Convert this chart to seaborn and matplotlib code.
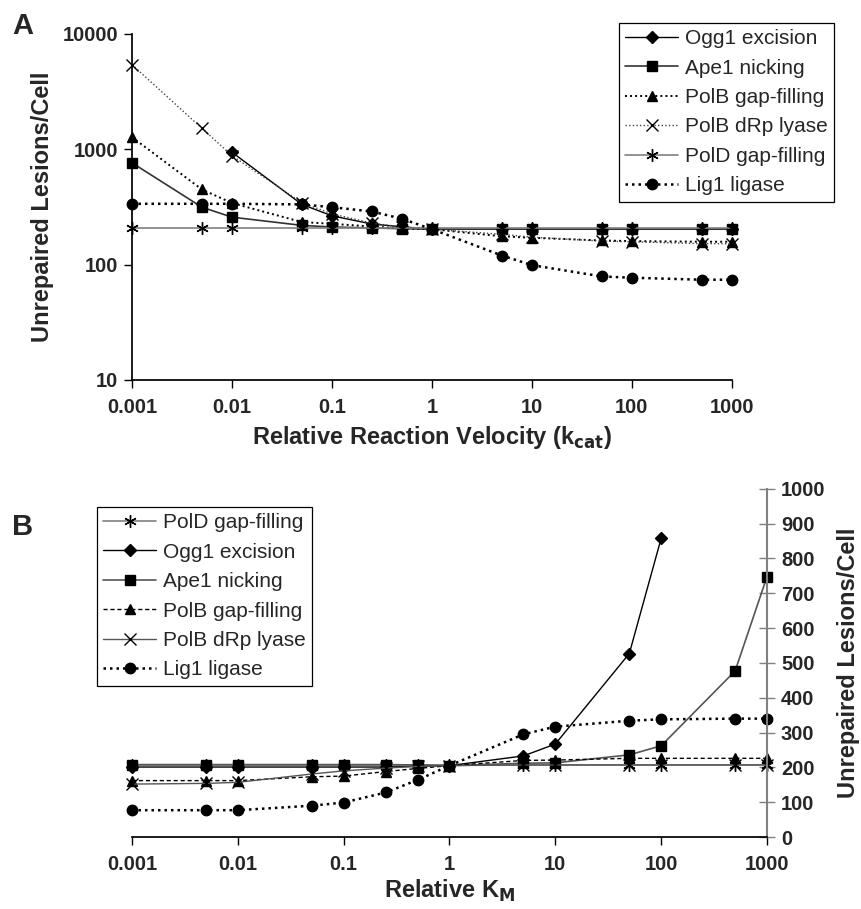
import numpy as np
import pandas as pd
import seaborn as sns
import matplotlib
matplotlib.use('Agg')
import matplotlib.pyplot as plt

sns.set_theme(style='white')
plt.rcParams['font.family'] = ['Liberation Sans', 'DejaVu Sans']

# x values shared by both panels
rel_x = [0.001, 0.005, 0.01, 0.05, 0.1, 0.25, 0.5, 1, 5, 10, 50, 100, 500, 1000]
log_ticks = [0.001, 0.01, 0.1, 1, 10, 100, 1000]

# Panel A: relative kcat (log y)
a_ogg1_x = rel_x[2:]
a_ogg1 = [944, 333, 265, 225, 213, 203, 203, 203, 203, 203, 203, 203]
a_ape1 = [764, 315, 258, 219, 212, 208, 205, 203, 203, 203, 203, 203, 203, 203]
a_polb_gap = [1274, 449, 342, 234, 226, 214, 206, 203, 176, 171, 162, 160, 158, 158]
a_polb_drp = [5420, 1523, 881, 344, 276, 229, 212, 203, 183, 173, 160, 158, 152, 152]
a_pold = [207, 207, 207, 207, 207, 207, 207, 207, 207, 207, 207, 207, 207, 207]
a_lig1 = [337, 337, 337, 333, 315, 289, 250, 203, 120, 99, 79, 77, 74, 74]
a_yticks = [10, 100, 1000, 10000]

# Panel B: relative KM (linear y)
b_ogg1_x = rel_x[:12]
b_ogg1 = [201, 201, 201, 201, 201, 201, 203, 205, 233, 267, 527, 858]
b_ape1 = [208, 208, 208, 208, 208, 208, 207, 205, 212, 213, 236, 262, 477, 748]
b_polb_gap = [162, 162, 162, 173, 175, 188, 197, 205, 220, 221, 226, 226, 226, 226]
b_polb_drp = [152, 154, 157, 181, 190, 198, 203, 205, 207, 207, 207, 207, 207, 207]
b_pold = [207, 207, 207, 207, 207, 207, 207, 207, 207, 207, 207, 207, 207, 207]
b_lig1 = [77, 77, 77, 90, 99, 128, 164, 205, 295, 317, 334, 338, 340, 340]
b_yticks = [0, 100, 200, 300, 400, 500, 600, 700, 800, 900, 1000]

GRAY = '#808080'
ASTER = (6, 2, 0)


def draw(ax, x, y, label, color, ls, lw, marker, ms, mew=1.0):
    sns.lineplot(x=x, y=y, ax=ax, label=label, color=color, linestyle=ls,
                 linewidth=lw, marker=marker, markersize=ms,
                 markeredgecolor='black', markerfacecolor='black',
                 markeredgewidth=mew, errorbar=None, sort=False, clip_on=False)


fig = plt.figure(figsize=(8.62, 9.09), dpi=100)
axA = fig.add_axes([0.1531, 0.582, 0.696, 0.3806])
axB = fig.add_axes([0.1531, 0.0792, 0.7367, 0.383])

dot = (0, (1, 1.6))
draw(axA, a_ogg1_x, a_ogg1, 'Ogg1 excision', 'black', '-', 1.0, 'D', 6)
draw(axA, rel_x, a_ape1, 'Ape1 nicking', '#333333', '-', 1.2, 's', 7)
draw(axA, rel_x, a_polb_gap, 'PolB gap-filling', 'black', dot, 1.4, '^', 7.5)
draw(axA, rel_x, a_polb_drp, 'PolB dRp lyase', '#444444', dot, 1.0, 'x', 8, 1.0)
draw(axA, rel_x, a_pold, 'PolD gap-filling', GRAY, '-', 1.2, ASTER, 9, 1.0)
draw(axA, rel_x, a_lig1, 'Lig1 ligase', 'black', dot, 1.8, 'o', 7.5)

draw(axB, rel_x, b_pold, 'PolD gap-filling', GRAY, '-', 1.2, ASTER, 9, 1.0)
draw(axB, b_ogg1_x, b_ogg1, 'Ogg1 excision', 'black', '-', 1.0, 'D', 6)
draw(axB, rel_x, b_ape1, 'Ape1 nicking', '#555555', '-', 1.2, 's', 7.5)
draw(axB, rel_x, b_polb_gap, 'PolB gap-filling', 'black', (0, (3, 2)), 1.0, '^', 7.5)
draw(axB, rel_x, b_polb_drp, 'PolB dRp lyase', '#555555', '-', 1.0, 'x', 8, 1.0)
draw(axB, rel_x, b_lig1, 'Lig1 ligase', 'black', dot, 1.8, 'o', 7.5)

tick_font = dict(fontsize=14.5, fontweight='bold')
label_font = dict(fontsize=17, fontweight='bold')

for ax in (axA, axB):
    ax.set_xscale('log')
    ax.set_xlim(0.001, 1000)
    ax.set_xticks(log_ticks, [f'{v:g}' for v in log_ticks], **tick_font)
    ax.xaxis.set_minor_locator(matplotlib.ticker.NullLocator())
    ax.tick_params(axis='x', direction='out', length=6, width=1, color='black',
                   bottom=True, pad=7)
    ax.spines['top'].set_visible(False)
    ax.spines['bottom'].set_color('black')
    ax.patch.set_alpha(0)

# Panel A axes
axA.set_yscale('log')
axA.set_ylim(10, 10000)
axA.set_yticks(a_yticks, [f'{v:g}' for v in a_yticks], **tick_font)
axA.yaxis.set_minor_locator(matplotlib.ticker.NullLocator())
axA.tick_params(axis='y', direction='out', length=6, width=1, color='black', left=True, pad=4)
axA.spines['right'].set_visible(False)
axA.spines['left'].set_color('black')
axA.set_xlabel('Relative Reaction Velocity (k$_{\\mathbf{cat}}$)', labelpad=5, **label_font)
axA.set_ylabel('Unrepaired Lesions/Cell', labelpad=6, **label_font)

# Panel B axes
axB.set_ylim(0, 1000)
axB.yaxis.tick_right()
axB.yaxis.set_label_position('right')
axB.set_yticks(b_yticks, [str(v) for v in b_yticks], **tick_font)
axB.tick_params(axis='y', direction='inout', length=12, width=1, color=GRAY,
                right=True, left=False, pad=4)
axB.spines['left'].set_visible(False)
axB.spines['right'].set_color(GRAY)
axB.spines['right'].set_linewidth(1.5)
axB.set_xlabel('Relative K$_\\mathbf{M}$', labelpad=3, **label_font)
axB.set_ylabel('Unrepaired Lesions/Cell', labelpad=8, **label_font)

legend_kw = dict(loc='upper left', bbox_transform=fig.transFigure, frameon=True,
                 fancybox=False, framealpha=1, edgecolor='black', fontsize=15,
                 handlelength=2.55, handletextpad=0.3, labelspacing=0.5,
                 borderpad=0.3, borderaxespad=0)
legA = axA.legend(bbox_to_anchor=(0.718, 0.9747), **legend_kw)
legB = axB.legend(bbox_to_anchor=(0.1125, 0.4422), **legend_kw)
for leg in (legA, legB):
    leg.get_frame().set_linewidth(0.9)

fig.text(0.014, 0.987, 'A', fontsize=21, fontweight='bold', va='top')
fig.text(0.014, 0.436, 'B', fontsize=21, fontweight='bold', va='top')

fig.savefig('out.png', dpi=100)
